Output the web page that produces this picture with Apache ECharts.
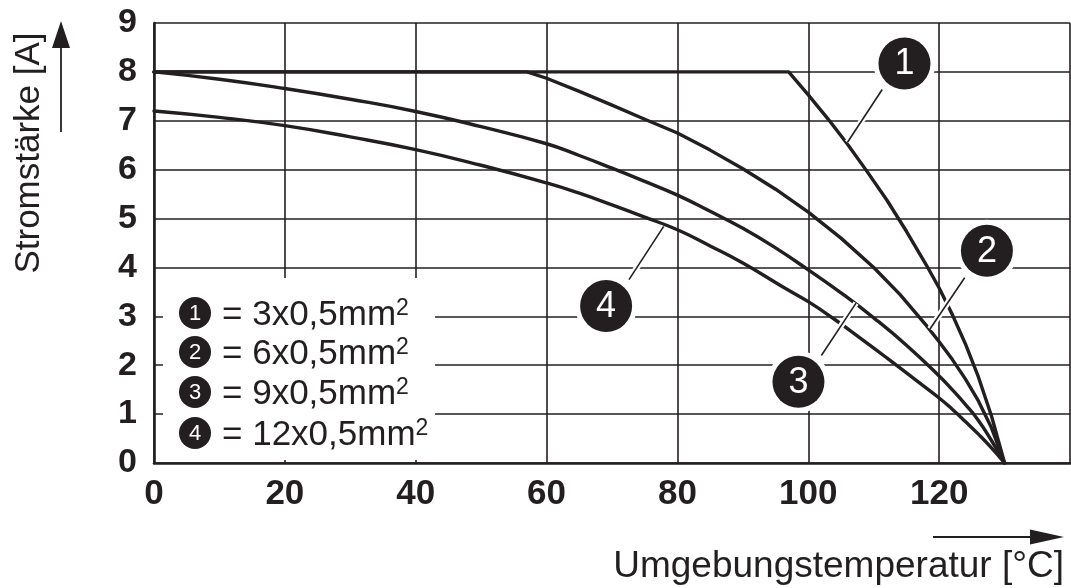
<!DOCTYPE html>
<html>
<head>
<meta charset="utf-8">
<script src="https://cdn.jsdelivr.net/npm/echarts@6/dist/echarts.min.js"></script>
<style>
html,body{margin:0;padding:0;background:#ffffff;}
#chart{width:1071px;height:588px;}
</style>
</head>
<body>
<div id="chart"></div>
<script>
// ---------------- data ----------------
const xTickValues = [0, 20, 40, 60, 80, 100, 120, 140];
const yTickValues = [0, 1, 2, 3, 4, 5, 6, 7, 8, 9];
const xAxisTitle = 'Umgebungstemperatur [°C]';
const yAxisTitle = 'Stromstärke [A]';

// curve 1 = 3x0,5mm²  (temperature °C, current A)
const curve1 = [[0,8],[97,8],[100,7.53],[103,7.04],[106,6.52],[109,5.96],[112,5.38],[115,4.74],[118,4.06],[120,3.58],[122,3.04],[124,2.44],[126,1.76],[128,0.96],[130,0]];
// curve 2 = 6x0,5mm²
const curve2 = [[0,8],[57,8],[60,7.87],[65,7.6],[70,7.32],[75,7.03],[80,6.75],[85,6.4],[90,6.02],[95,5.6],[100,5.13],[105,4.6],[110,4.0],[114,3.45],[118,2.82],[120,2.48],[122,2.12],[124,1.72],[126,1.27],[128,0.72],[130,0]];
// curve 3 = 9x0,5mm²
const curve3 = [[0,8],[10,7.85],[20,7.66],[30,7.44],[40,7.19],[50,6.88],[60,6.53],[65,6.29],[70,6.03],[75,5.76],[80,5.48],[85,5.15],[90,4.8],[95,4.4],[100,3.95],[105,3.48],[110,2.97],[115,2.41],[120,1.78],[122,1.5],[124,1.2],[126,0.87],[128,0.46],[130,0]];
// curve 4 = 12x0,5mm²
const curve4 = [[0,7.2],[10,7.07],[20,6.9],[30,6.67],[40,6.41],[50,6.09],[60,5.73],[65,5.52],[70,5.28],[75,5.03],[80,4.77],[85,4.44],[90,4.09],[96,3.61],[100,3.3],[104,2.94],[108,2.55],[112,2.15],[116,1.74],[120,1.33],[122,1.1],[124,0.85],[126,0.59],[128,0.31],[130,0]];

const seriesNumbers = ['1', '2', '3', '4'];
const legendTexts = ['= 3x0,5mm', '= 6x0,5mm', '= 9x0,5mm', '= 12x0,5mm'];
const superscript = '2';

// ---------------- layout / style ----------------
const INK = '#231f20';
const FONT = '"Liberation Sans", Arial, Helvetica, sans-serif';

// badge anchor + leader line ends, in data units (temperature, current)
const badgeLayout = [
  {c: [114.7, 8.17], a: [111.3, 7.64], b: [106.0, 6.56]},
  {c: [127.3, 4.34], a: [123.9, 3.79], b: [118.6, 2.74]},
  {c: [98.5, 1.66],  a: [102.0, 2.20], b: [107.3, 3.27]},
  {c: [69.1, 3.21],  a: [72.6, 3.75],  b: [77.9, 4.84]}
];

const chart = echarts.init(document.getElementById('chart'), null, {renderer: 'canvas'});

const curves = [curve1, curve2, curve3, curve4];
// curves with a sharp plateau corner are drawn unsmoothed (densely read points)
const smoothing = [false, false, 0.5, 0.5];

chart.setOption({
  animation: false,
  backgroundColor: '#ffffff',
  grid: {left: 154, right: 1, top: 23, bottom: 125, containLabel: false, outerBoundsMode: 'none'},
  xAxis: {
    type: 'value', min: xTickValues[0], max: xTickValues[xTickValues.length - 1], interval: 20,
    axisLine: {show: true, onZero: false, lineStyle: {color: INK, width: 2.6}},
    axisTick: {show: false},
    splitLine: {show: true, lineStyle: {color: INK, width: 1.6}},
    axisLabel: {
      margin: 14, fontFamily: FONT, fontSize: 35, fontWeight: 'bold', color: INK,
      formatter: v => (v === xTickValues[xTickValues.length - 1] ? '' : String(v))
    }
  },
  yAxis: {
    type: 'value', min: yTickValues[0], max: yTickValues[yTickValues.length - 1], interval: 1,
    axisLine: {show: true, onZero: false, lineStyle: {color: INK, width: 2.6}},
    axisTick: {show: false},
    splitLine: {show: true, lineStyle: {color: INK, width: 1.6}},
    axisLabel: {margin: 17, fontFamily: FONT, fontSize: 34, fontWeight: 'bold', color: INK}
  },
  series: curves.map((d, i) => ({
    type: 'line', name: seriesNumbers[i], data: d,
    symbol: 'none', showSymbol: false, silent: true,
    smooth: smoothing[i],
    lineStyle: {color: INK, width: 3.4, cap: 'round', join: 'round'},
    z: 3
  }))
});

function px(v) { return chart.convertToPixel({gridIndex: 0}, v); }

const g = [];

// legend white box (hides grid lines behind it)
const legendX = 163, legendY = 278, legendW = 272, legendH = 182;
g.push({type: 'rect', z: 1, silent: true, shape: {x: legendX, y: legendY, width: legendW, height: legendH}, style: {fill: '#ffffff'}});
const rowY = [313, 352, 392, 433];
legendTexts.forEach((t, i) => {
  g.push({type: 'circle', z: 5, silent: true, shape: {cx: 195, cy: rowY[i], r: 16}, style: {fill: INK}});
  g.push({type: 'text', z: 6, silent: true, x: 195, y: rowY[i] + 1,
    style: {text: seriesNumbers[i], fill: '#ffffff', font: '22px ' + FONT, align: 'center', verticalAlign: 'middle'}});
  g.push({type: 'text', z: 6, silent: true, x: 222, y: rowY[i] + 2,
    style: {
      text: '{m|' + t + '}{s|' + superscript + '}',
      align: 'left', verticalAlign: 'middle',
      rich: {
        m: {fontFamily: FONT, fontSize: 35, fill: INK, color: INK, lineHeight: 35},
        s: {fontFamily: FONT, fontSize: 23, fill: INK, color: INK, verticalAlign: 'top', lineHeight: 23}
      }
    }});
});

// badges with leader lines
badgeLayout.forEach((b, i) => {
  const c = px(b.c), a = px(b.a), e = px(b.b);
  g.push({type: 'line', z: 20, silent: true, shape: {x1: a[0], y1: a[1], x2: e[0], y2: e[1]}, style: {stroke: '#ffffff', lineWidth: 6}});
  g.push({type: 'line', z: 21, silent: true, shape: {x1: a[0], y1: a[1], x2: e[0], y2: e[1]}, style: {stroke: INK, lineWidth: 1.6}});
  g.push({type: 'circle', z: 22, silent: true, shape: {cx: c[0], cy: c[1], r: 31}, style: {fill: '#ffffff'}});
  g.push({type: 'circle', z: 23, silent: true, shape: {cx: c[0], cy: c[1], r: 26}, style: {fill: INK}});
  g.push({type: 'text', z: 24, silent: true, x: c[0], y: c[1] + 1,
    style: {text: seriesNumbers[i], fill: '#ffffff', font: '36px ' + FONT, align: 'center', verticalAlign: 'middle'}});
});

// axis titles with arrows
g.push({type: 'text', z: 5, silent: true, x: 1064, y: 567,
  style: {text: xAxisTitle, fill: INK, font: '37px ' + FONT, align: 'right', verticalAlign: 'middle'}});
g.push({type: 'line', z: 5, silent: true, shape: {x1: 933, y1: 537, x2: 1034, y2: 537}, style: {stroke: INK, lineWidth: 1.8}});
g.push({type: 'polygon', z: 5, silent: true, shape: {points: [[1030, 529.5], [1064, 537], [1030, 544.5]]}, style: {fill: INK}});

g.push({type: 'text', z: 5, silent: true, x: 29, y: 153, rotation: Math.PI / 2,
  style: {text: yAxisTitle, fill: INK, font: '35px ' + FONT, align: 'center', verticalAlign: 'middle'}});
g.push({type: 'line', z: 5, silent: true, shape: {x1: 61, y1: 132, x2: 61, y2: 44}, style: {stroke: INK, lineWidth: 1.8}});
g.push({type: 'polygon', z: 5, silent: true, shape: {points: [[52, 48], [61, 21], [70, 48]]}, style: {fill: INK}});

chart.setOption({graphic: g});
</script>
</body>
</html>
